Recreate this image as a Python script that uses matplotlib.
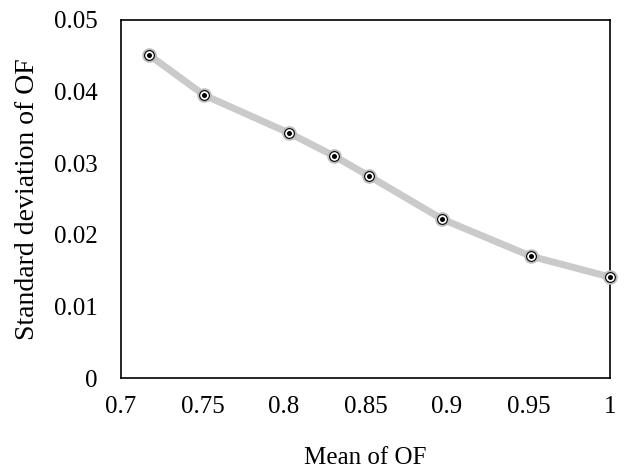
import matplotlib.pyplot as plt

mean_of = [0.7172, 0.7509, 0.8031, 0.8307, 0.8521, 0.8969, 0.9515, 1.0]
std_of = [0.0451, 0.0395, 0.0342, 0.0310, 0.0282, 0.0222, 0.0170, 0.0141]

plt.rcParams['font.family'] = ['Liberation Serif', 'DejaVu Serif']
plt.rcParams['font.size'] = 18

fig = plt.figure(figsize=(6.27, 4.72), dpi=100)
ax = fig.add_axes([0.193, 0.199, 0.780, 0.759])

# gray line with layered markers
ax.plot(mean_of, std_of, color='#cacaca', lw=5, solid_joinstyle='round',
        solid_capstyle='round', zorder=2, clip_on=False)
ax.plot(mean_of, std_of, 'o', ms=10.5, color='#bdbdbd', mec='none', zorder=3, clip_on=False)
ax.plot(mean_of, std_of, 'o', ms=7, mfc='white', mec='black', mew=0.8, zorder=4, clip_on=False)
ax.plot(mean_of, std_of, 'o', ms=3.6, color='black', mec='none', zorder=5, clip_on=False)

ax.set_xlim(0.7, 1.0)
ax.set_ylim(0, 0.05)
ax.set_xticks([0.7, 0.75, 0.8, 0.85, 0.9, 0.95, 1.0])
ax.set_xticklabels(['0.7', '0.75', '0.8', '0.85', '0.9', '0.95', '1'])
ax.set_yticks([0, 0.01, 0.02, 0.03, 0.04, 0.05])
ax.set_yticklabels(['0', '0.01', '0.02', '0.03', '0.04', '0.05'])
ax.tick_params(axis='x', length=0, pad=13)
ax.tick_params(axis='y', length=0, pad=17)
for s in ax.spines.values():
    s.set_linewidth(1.2)

ax.set_xlabel('Mean of OF', labelpad=21)
ax.set_ylabel('Standard deviation of OF', fontsize=20, labelpad=10)

fig.savefig('out.png', dpi=100)
